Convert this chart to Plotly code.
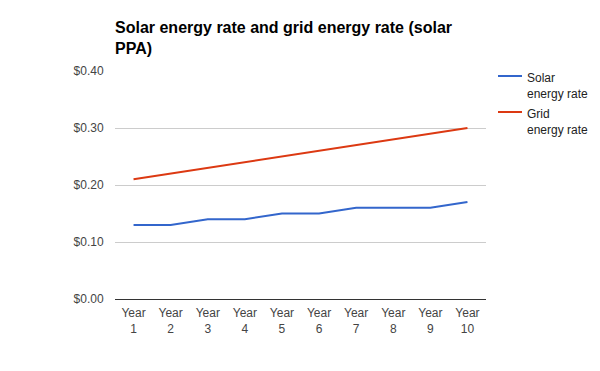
import plotly.graph_objects as go

categories = ["Year<br>1", "Year<br>2", "Year<br>3", "Year<br>4", "Year<br>5",
              "Year<br>6", "Year<br>7", "Year<br>8", "Year<br>9", "Year<br>10"]
solar_rate = [0.13, 0.13, 0.14, 0.14, 0.15, 0.15, 0.16, 0.16, 0.16, 0.17]
grid_rate = [0.21, 0.22, 0.23, 0.24, 0.25, 0.26, 0.27, 0.28, 0.29, 0.30]
series_names = ["Solar<br>energy rate", "Grid<br>energy rate"]
series_colors = ["#3366cc", "#dc3912"]
y_ticks = [0.0, 0.1, 0.2, 0.3, 0.4]

W, H = 592, 363  # page body has an 8px default margin
ML, MR, MT, MB = 107, 114, 63, 72
plot_w = W - ML - MR
plot_h = H - MT - MB


def px_x(x):  # figure pixel -> paper
    return (x - ML) / plot_w


def px_y(y):
    return (H - MB - y) / plot_h


fig = go.Figure()
for vals, name, col in zip([solar_rate, grid_rate], series_names, series_colors):
    fig.add_trace(go.Scatter(x=categories, y=vals, mode="lines", name=name,
                             line=dict(color=col, width=2), showlegend=False))

# manual legend (right side)
for i, (name, col) in enumerate(zip(series_names, series_colors)):
    ly = 68 + 36 * i
    fig.add_shape(type="line", xref="paper", yref="paper",
                  x0=px_x(490), x1=px_x(514), y0=px_y(ly), y1=px_y(ly),
                  line=dict(color=col, width=2))
    fig.add_annotation(xref="paper", yref="paper", x=px_x(517), y=px_y(ly + 9.5),
                       xanchor="left", yanchor="middle", align="left",
                       text=name, showarrow=False,
                       font=dict(size=12, color="#222222"))

fig.update_layout(
    width=W, height=H,
    margin=dict(l=ML, r=MR, t=MT, b=MB),
    paper_bgcolor="white", plot_bgcolor="white",
    font=dict(family="Liberation Sans, Arial, sans-serif", size=12, color="#444444"),
    title=dict(text="<b>Solar energy rate and grid energy rate (solar<br>PPA)</b>",
               x=ML / W, xanchor="left", y=1 - 25 / H, yanchor="top",
               font=dict(size=16, color="#000000")),
    xaxis=dict(type="category", range=[-0.5, 9.5], showgrid=False,
               showline=True, linecolor="#333333", linewidth=1,
               ticks="outside", ticklen=3, tickcolor="rgba(0,0,0,0)",
               tickfont=dict(size=12, color="#444444"), fixedrange=True),
    yaxis=dict(range=[0, 0.4], tickvals=y_ticks, tickformat="$.2f",
               showgrid=True, gridcolor="#cccccc", gridwidth=1,
               zeroline=False, showline=False, ticks="outside", ticklen=8,
               tickcolor="rgba(0,0,0,0)", tickfont=dict(size=12, color="#444444")),
    showlegend=False,
)

fig.write_html("out.html")
